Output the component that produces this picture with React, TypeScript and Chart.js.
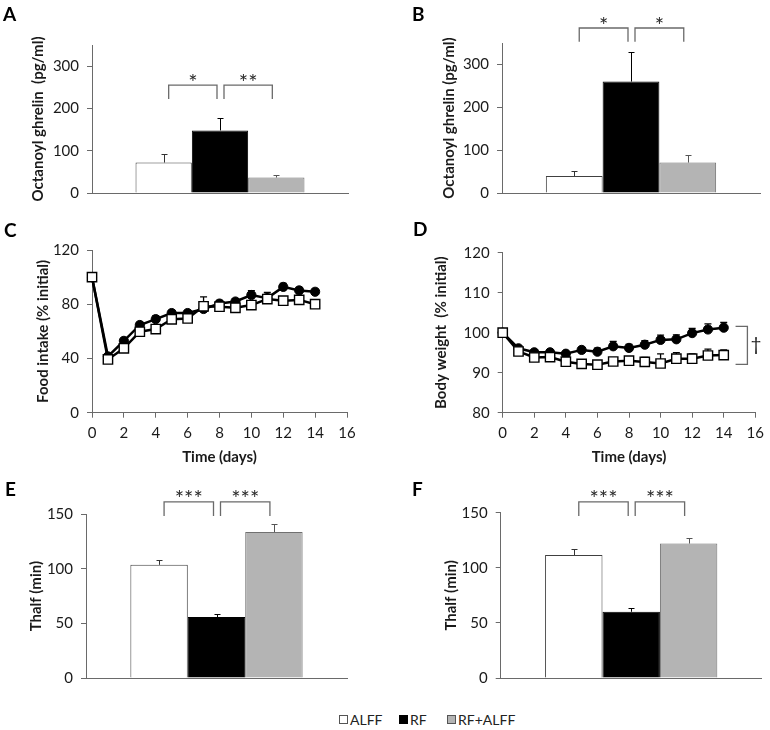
import React, { useEffect, useRef } from 'react';
import { Chart, registerables } from 'chart.js';

Chart.register(...registerables);

const FONT = 'Lato, "Open Sans", sans-serif';
const AXIS = '#6a6a6a';
const TEXT = '#1a1a1a';
const BRACKET = '#6a6a6a';

// ---------- groups ----------
const groups = ['ALFF', 'RF', 'RF+ALFF'];
const groupFill = ['#ffffff', '#000000', '#b4b4b4'];
const groupEdge = ['#404040', '#000000', '#707070'];
const groupErr = ['#333333', '#000000', '#555555'];

// ---------- A: octanoyl ghrelin ----------
const ghrelinA = [72, 148, 36.5];
const ghrelinAErr = [20, 29, 5.5];
const starsA = ['*', '**'];
const bracketA = [255, 222.5];

// ---------- B: octanoyl ghrelin ----------
const ghrelinB = [39.5, 260, 71];
const ghrelinBErr = [12.5, 68, 18];
const starsB = ['*', '*'];
const bracketB = [385, 353];

// ---------- C: food intake ----------
const days = [0, 1, 2, 3, 4, 5, 6, 7, 8, 9, 10, 11, 12, 13, 14];
const foodALFF = [100, 39.3, 47.5, 59.7, 61.7, 68.9, 69.5, 78.5, 78.2, 77.4, 79.4, 83.8, 82.6, 83.2, 80];
const foodALFFErr = [0, 1, 1.5, 1.5, 2, 1.5, 1.5, 7, 2, 2, 2, 5, 2, 2, 3];
const foodRF = [100, 41.5, 53, 64.7, 69, 73.5, 73.5, 76.5, 80.5, 82, 86.8, 84.5, 92.8, 90.2, 89.2];
const foodRFErr = [0, 1.5, 2, 2, 2.5, 2, 2, 2, 2.4, 2.2, 3.2, 3, 2.6, 2.2, 2];

// ---------- D: body weight ----------
const bwALFF = [100, 95.3, 93.8, 93.9, 92.75, 92.2, 92, 92.8, 93, 92.7, 92.3, 93.5, 93.5, 94.3, 94.4];
const bwALFFErr = [0, 0.5, 0.6, 0.7, 0.7, 0.8, 0.8, 0.9, 0.8, 1.1, 2.4, 1.5, 1.2, 1.6, 1.3];
const bwRF = [100, 96.1, 95.1, 95.1, 94.75, 95.7, 95.25, 96.6, 96.2, 97, 98.2, 98.35, 99.9, 100.8, 101.25];
const bwRFErr = [0, 0.6, 0.6, 0.6, 0.6, 0.7, 0.9, 1.2, 0.9, 1, 1.2, 1.1, 1.2, 1.4, 1.3];
const daggerSpan = [101.6, 92.1];

// ---------- E, F: Thalf ----------
const thalfE = [103.7, 55.8, 133.7];
const thalfEErr = [4, 3.2, 7.3];
const starsE = ['***', '***'];
const bracketE = [161.4, 148.5];

const thalfF = [111.6, 60.1, 122];
const thalfFErr = [5.4, 3.6, 5.3];
const starsF = ['***', '***'];
const bracketF = [159.8, 147];

type Geo = {
  left: number; top: number; w: number; h: number;
  l: number; t: number; r: number; b: number; titleX: number;
};

const geoA: Geo = { left: 0, top: 0, w: 385, h: 210, l: 92, t: 45, r: 348, b: 196, titleX: 38 };
const geoB: Geo = { left: 385, top: 0, w: 385, h: 210, l: 117, t: 43, r: 375, b: 196, titleX: 64.5 };
const geoC: Geo = { left: 0, top: 210, w: 385, h: 260, l: 92, t: 40, r: 347, b: 202.7, titleX: 43.5 };
const geoD: Geo = { left: 385, top: 210, w: 385, h: 260, l: 117.7, t: 42.7, r: 373, b: 202.7, titleX: 56.5 };
const geoE: Geo = { left: 0, top: 470, w: 385, h: 225, l: 86, t: 44.3, r: 347, b: 211, titleX: 36.5 };
const geoF: Geo = { left: 385, top: 470, w: 385, h: 225, l: 115.7, t: 42.7, r: 376.7, b: 211.7, titleX: 66.5 };

const tickFont = { family: FONT, size: 15 };
const titleFont = { family: FONT, size: 15, weight: 'bold' as const };

function yScale(geo: Geo, min: number, max: number, step: number, title: string) {
  return {
    type: 'linear',
    min,
    max,
    ticks: { stepSize: step, includeBounds: false, font: tickFont, color: TEXT, padding: 8 },
    grid: { display: true, drawOnChartArea: false, drawTicks: true, tickLength: 5, color: AXIS, lineWidth: 1 },
    border: { display: true, color: AXIS, width: 1 },
    title: { display: true, text: title, font: titleFont, color: TEXT, padding: { top: geo.titleX - 9, bottom: 0 } },
    afterFit: (s: any) => { s.width = geo.l; },
  };
}

function basePlugins() {
  return { legend: { display: false }, tooltip: { enabled: false }, title: { display: false } };
}

function barConfig(geo: Geo, values: number[], errs: number[], yMax: number, yStep: number,
  title: string, bracket: number[], stars: string[]) {
  const decor = {
    id: 'barDecor',
    afterDatasetsDraw(chart: any) {
      const ctx = chart.ctx;
      const y = chart.scales.y;
      const centers = values.map((_, i) => chart.getDatasetMeta(i).data[0].x);
      values.forEach((v, i) => {
        const x = Math.round(centers[i]) + 0.5;
        const y0 = y.getPixelForValue(v);
        const y1 = Math.round(y.getPixelForValue(v + errs[i])) + 0.5;
        ctx.save();
        ctx.strokeStyle = groupErr[i];
        ctx.lineWidth = 1;
        ctx.beginPath();
        ctx.moveTo(x, y0);
        ctx.lineTo(x, y1);
        ctx.moveTo(x - 3, y1);
        ctx.lineTo(x + 3, y1);
        ctx.stroke();
        ctx.restore();
      });
      const yt = y.getPixelForValue(bracket[0]);
      const yf = y.getPixelForValue(bracket[1]);
      const spans = [[centers[0] + 5, centers[1] - 3], [centers[1] + 4, centers[2] - 4]];
      spans.forEach(([a, b], k) => {
        ctx.save();
        ctx.strokeStyle = BRACKET;
        ctx.lineWidth = 1.3;
        ctx.beginPath();
        ctx.moveTo(a, yf);
        ctx.lineTo(a, yt);
        ctx.lineTo(b, yt);
        ctx.lineTo(b, yf);
        ctx.stroke();
        ctx.fillStyle = '#2a2a2a';
        ctx.font = `22px ${FONT}`;
        ctx.textAlign = 'center';
        ctx.textBaseline = 'alphabetic';
        ctx.fillText(stars[k], (a + b) / 2, yt + 4.5);
        ctx.restore();
      });
    },
  };
  return {
    type: 'bar',
    data: {
      labels: [''],
      datasets: groups.map((g, i) => ({
        label: g,
        data: [values[i]],
        backgroundColor: groupFill[i],
        borderColor: groupEdge[i],
        borderWidth: 1,
        categoryPercentage: 0.66,
        barPercentage: 1,
      })),
    },
    options: {
      responsive: false,
      maintainAspectRatio: false,
      animation: false,
      events: [],
      layout: { padding: { left: 0, top: geo.t, right: geo.w - geo.r, bottom: 0 } },
      plugins: basePlugins(),
      scales: {
        x: {
          type: 'category',
          grid: { display: false },
          border: { display: true, color: AXIS, width: 1 },
          ticks: { display: false },
          afterFit: (s: any) => { s.height = geo.h - geo.b; },
        },
        y: yScale(geo, 0, yMax, yStep, title),
      },
    },
    plugins: [decor],
  };
}

function lineConfig(geo: Geo, alff: number[], alffErr: number[], rf: number[], rfErr: number[],
  yMin: number, yMax: number, yStep: number, title: string, extra?: (chart: any) => void) {
  const series = [
    { vals: alff, errs: alffErr },
    { vals: rf, errs: rfErr },
  ];
  const decor = {
    id: 'lineDecor',
    beforeDatasetsDraw(chart: any) {
      const ctx = chart.ctx;
      const x = chart.scales.x;
      const y = chart.scales.y;
      series.forEach((s) => {
        s.vals.forEach((v, i) => {
          if (!s.errs[i]) return;
          const px = x.getPixelForValue(days[i]);
          const y0 = y.getPixelForValue(v);
          const y1 = y.getPixelForValue(v + s.errs[i]);
          ctx.save();
          ctx.strokeStyle = '#000';
          ctx.lineWidth = 1.3;
          ctx.beginPath();
          ctx.moveTo(px, y0);
          ctx.lineTo(px, y1);
          ctx.moveTo(px - 3.5, y1);
          ctx.lineTo(px + 3.5, y1);
          ctx.stroke();
          ctx.restore();
        });
      });
    },
    afterDraw(chart: any) {
      if (extra) extra(chart);
    },
  };
  return {
    type: 'line',
    data: {
      datasets: [
        {
          label: 'ALFF',
          data: days.map((d, i) => ({ x: d, y: alff[i] })),
          borderColor: '#000',
          borderWidth: 2.5,
          pointStyle: 'rect',
          pointRadius: 6.6,
          pointBackgroundColor: '#fff',
          pointBorderColor: '#000',
          pointBorderWidth: 1.4,
          clip: false,
        },
        {
          label: 'RF',
          data: days.map((d, i) => ({ x: d, y: rf[i] })),
          borderColor: '#000',
          borderWidth: 2.5,
          pointStyle: 'circle',
          pointRadius: 4.6,
          pointBackgroundColor: '#000',
          pointBorderColor: '#000',
          pointBorderWidth: 1,
          clip: false,
        },
      ],
    },
    options: {
      responsive: false,
      maintainAspectRatio: false,
      animation: false,
      events: [],
      layout: { padding: { left: 0, top: geo.t, right: geo.w - geo.r, bottom: 0 } },
      plugins: basePlugins(),
      scales: {
        x: {
          type: 'linear',
          min: 0,
          max: 16,
          ticks: { stepSize: 2, font: tickFont, color: TEXT, padding: 6 },
          grid: { display: true, drawOnChartArea: false, drawTicks: true, tickLength: 5, color: AXIS, lineWidth: 1 },
          border: { display: true, color: AXIS, width: 1 },
          title: { display: true, text: 'Time (days)', font: titleFont, color: TEXT, padding: { top: 0, bottom: 4 } },
          afterFit: (s: any) => { s.height = geo.h - geo.b; },
        },
        y: yScale(geo, yMin, yMax, yStep, title),
      },
    },
    plugins: [decor],
  };
}

function daggerBracket(chart: any) {
  const ctx = chart.ctx;
  const x = chart.scales.x;
  const y = chart.scales.y;
  const xa = x.getPixelForValue(14.75);
  const xb = x.getPixelForValue(15.5);
  const yt = y.getPixelForValue(daggerSpan[0]);
  const yb = y.getPixelForValue(daggerSpan[1]);
  ctx.save();
  ctx.strokeStyle = BRACKET;
  ctx.lineWidth = 1.3;
  ctx.beginPath();
  ctx.moveTo(xa, yt);
  ctx.lineTo(xb, yt);
  ctx.lineTo(xb, yb);
  ctx.lineTo(xa, yb);
  ctx.stroke();
  ctx.fillStyle = '#1a1a1a';
  ctx.font = `19px ${FONT}`;
  ctx.textAlign = 'center';
  ctx.textBaseline = 'middle';
  ctx.fillText('\u2020', x.getPixelForValue(16.05), y.getPixelForValue((daggerSpan[0] + daggerSpan[1]) / 2));
  ctx.restore();
}

function ChartCanvas({ geo, make }: { geo: Geo; make: () => any }) {
  const ref = useRef<HTMLCanvasElement | null>(null);
  useEffect(() => {
    const chart = new Chart(ref.current as HTMLCanvasElement, make());
    return () => chart.destroy();
  }, []);
  return (
    <canvas
      ref={ref}
      width={geo.w}
      height={geo.h}
      style={{ position: 'absolute', left: geo.left, top: geo.top, width: geo.w, height: geo.h }}
    />
  );
}

const panelLetters = [
  { t: 'A', x: 3, y: 4 },
  { t: 'B', x: 412, y: 4 },
  { t: 'C', x: 4, y: 220 },
  { t: 'D', x: 413, y: 219 },
  { t: 'E', x: 5, y: 479 },
  { t: 'F', x: 412, y: 479 },
];

const legendPos = [339, 399, 447];

export default function App() {
  return (
    <div style={{ position: 'absolute', left: 0, top: 0, width: 770, height: 730, background: '#fff', fontFamily: FONT }}>
      <ChartCanvas geo={geoA} make={() => barConfig(geoA, ghrelinA, ghrelinAErr, 350, 100, 'Octanoyl ghrelin  (pg/ml)', bracketA, starsA)} />
      <ChartCanvas geo={geoB} make={() => barConfig(geoB, ghrelinB, ghrelinBErr, 350, 100, 'Octanoyl ghrelin (pg/ml)', bracketB, starsB)} />
      <ChartCanvas geo={geoC} make={() => lineConfig(geoC, foodALFF, foodALFFErr, foodRF, foodRFErr, 0, 120, 40, 'Food intake (% initial)')} />
      <ChartCanvas geo={geoD} make={() => lineConfig(geoD, bwALFF, bwALFFErr, bwRF, bwRFErr, 80, 120, 10, 'Body weight  (% initial)', daggerBracket)} />
      <ChartCanvas geo={geoE} make={() => barConfig(geoE, thalfE, thalfEErr, 150, 50, 'Thalf (min)', bracketE, starsE)} />
      <ChartCanvas geo={geoF} make={() => barConfig(geoF, thalfF, thalfFErr, 150, 50, 'Thalf (min)', bracketF, starsF)} />
      {panelLetters.map((p) => (
        <div key={p.t} style={{ position: 'absolute', left: p.x, top: p.y, fontSize: 19, lineHeight: '19px', fontWeight: 700, color: '#000' }}>
          {p.t}
        </div>
      ))}
      {groups.map((g, i) => (
        <div key={g} style={{ position: 'absolute', left: legendPos[i], top: 710, height: 18, display: 'flex', alignItems: 'center', fontSize: 14, color: '#222', whiteSpace: 'nowrap' }}>
          <span style={{ display: 'inline-block', width: 7, height: 7, background: groupFill[i], border: `1px solid ${i === 1 ? '#000' : '#555'}`, marginRight: 2 }} />
          <span>{g}</span>
        </div>
      ))}
    </div>
  );
}
